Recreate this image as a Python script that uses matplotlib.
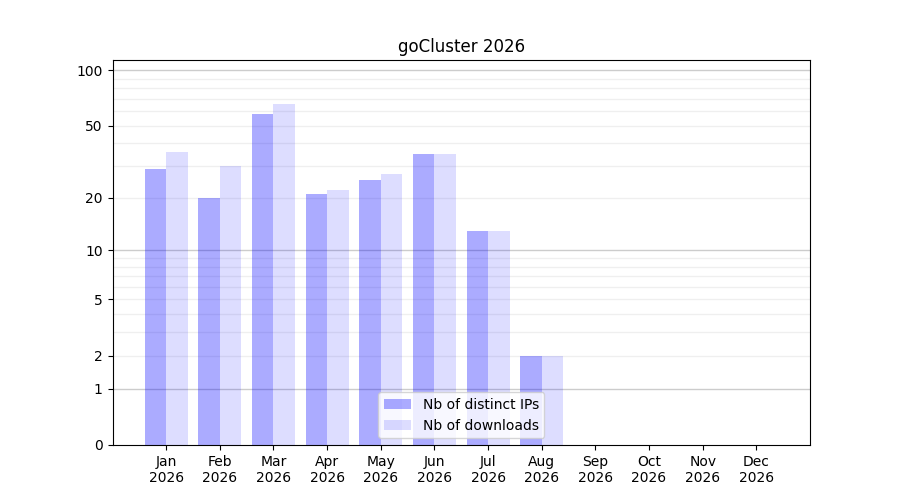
import numpy as np
import matplotlib
matplotlib.use('Agg')
from matplotlib import pyplot as plt

months = ['Jan', 'Feb', 'Mar', 'Apr', 'May', 'Jun', 'Jul', 'Aug', 'Sep', 'Oct', 'Nov', 'Dec']
year = 2026
distinct_ips = [29, 20, 58, 21, 25, 35, 13, 2, 0, 0, 0, 0]
downloads = [36, 30, 66, 22, 27, 35, 13, 2, 0, 0, 0, 0]
y_ticks = [0, 1, 2, 5, 10, 20, 50, 100]


def forward(v):
    return np.log10(1 + np.clip(v, -0.999, None))


def inverse(v):
    return 10 ** v - 1


fig, ax = plt.subplots(figsize=(9, 5), dpi=100)
ax.set_yscale('function', functions=(forward, inverse))

# grid: darker at decades, light for the in-between values
for v in [1, 10, 100]:
    ax.axhline(v, color='0.5', alpha=0.4, lw=1, zorder=0)
for d in [1, 10]:
    for k in range(2, 10):
        ax.axhline(k * d, color='0.5', alpha=0.12, lw=1, zorder=0)

x = np.arange(len(months))
w = 0.4
ax.bar(x - w / 2, distinct_ips, w, color='blue', alpha=0.33, label='Nb of distinct IPs', zorder=2)
ax.bar(x + w / 2, downloads, w, color='blue', alpha=0.135, label='Nb of downloads', zorder=2)

ax.set_xticks(x)
ax.set_xticklabels([f'{m}\n{year}' for m in months])
ax.set_xlim(-1, 12)

ax.set_yticks(y_ticks)
ax.set_yticklabels([str(t) for t in y_ticks])
ax.yaxis.set_minor_locator(matplotlib.ticker.NullLocator())
ax.set_ylim(0, 113.5)

ax.set_title(f'goCluster {year}')
ax.legend(loc='lower center')

plt.savefig('out.png')
